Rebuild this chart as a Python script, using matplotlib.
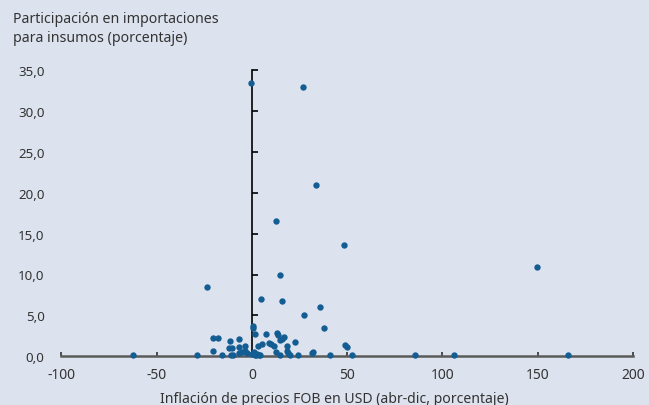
import matplotlib
matplotlib.use("Agg")
import matplotlib.pyplot as plt
from matplotlib.ticker import FuncFormatter

# --- Data ---
inflacion = [
    -0.4, 26.9, 33.6, 12.4, 48.3, 149.4, 15.0, -23.6, 5.0, 15.7, 35.7, 27.5, 37.6,
    0.7, 0.4, 1.8, 7.6, 13.4, 13.8, 14.6, 15.8, 16.9, 22.5, 3.4, 5.1, 9.1, 10.2,
    11.4, 18.2, 18.2, 18.7, 12.5, 15.0, 20.1, 24.3, 32.2, 31.5, 40.8, 49.0, 49.8,
    52.3, 85.6, 106.2, 166.0, -62.3, -29.0,
    -20.3, -17.6, -20.3, -15.6, -11.5, -7.0, -12.1, -10.2, -6.5, -10.8, -10.1,
    -7.0, -3.4, -3.4, -5.2, -2.8,
    1.3, 2.5, 3.6, 1.6, 0.2, 4.5, 2.3,
]
participacion = [
    33.4, 32.9, 21.0, 16.6, 13.6, 10.9, 10.0, 8.5, 7.0, 6.8, 6.0, 5.0, 3.4,
    3.75, 3.4, 2.75, 2.7, 2.9, 2.6, 2.0, 2.1, 2.3, 1.7, 1.3, 1.5, 1.6, 1.5,
    1.2, 1.2, 0.65, 0.45, 0.5, 0.2, 0.2, 0.2, 0.56, 0.37, 0.2, 1.42, 1.17,
    0.2, 0.15, 0.15, 0.15, 0.15, 0.15,
    2.2, 2.2, 0.7, 0.2, 1.9, 2.15, 1.0, 1.0, 1.1, 0.15, 0.15,
    0.35, 1.3, 0.6, 0.5, 0.35,
    0.5, 0.3, 0.15, 0.15, 0.3, 0.1, 0.1,
]

x_ticks = [-100, -50, 0, 50, 100, 150, 200]
y_ticks = [0, 5, 10, 15, 20, 25, 30, 35]

bg = '#dde3ee'
dot = '#135d93'
txt = '#333333'

plt.rcParams['font.family'] = ['Noto Sans', 'DejaVu Sans']

fig = plt.figure(figsize=(6.49, 4.06), dpi=100, facecolor=bg)
ax = fig.add_axes([0.0945, 0.12, 0.8808, 0.705], facecolor=bg)

ax.scatter(inflacion, participacion, s=21, color=dot, zorder=3,
           clip_on=False, linewidths=0)

ax.set_xlim(-100, 200)
ax.set_ylim(0, 35)
ax.set_xticks(x_ticks)
ax.set_yticks(y_ticks)

# spines
for s in ['top', 'right']:
    ax.spines[s].set_visible(False)
ax.spines['left'].set_position(('data', 0))
ax.spines['left'].set_color('black')
ax.spines['left'].set_linewidth(1.2)
ax.spines['bottom'].set_color('#5a5a5a')
ax.spines['bottom'].set_linewidth(1.8)

ax.tick_params(axis='y', direction='in', length=4, width=1.2,
               color='black', labelleft=False)
ax.tick_params(axis='x', direction='in', length=3, width=1.2,
               color='#333333', labelsize=10, labelcolor=txt, pad=8)
ax.xaxis.set_major_formatter(FuncFormatter(lambda v, p: f"{v:.0f}"))

# y labels on the far left
sec = ax.secondary_yaxis('left')
sec.set_yticks(y_ticks)
sec.spines['left'].set_visible(False)
sec.tick_params(length=0, labelsize=9.6, labelcolor=txt, pad=12)
sec.yaxis.set_major_formatter(
    FuncFormatter(lambda v, p: f"{v:.1f}".replace('.', ',')))

ax.set_xlabel("Inflación de precios FOB en USD (abr-dic, porcentaje)",
              fontsize=10.1, color=txt, labelpad=6)
ax.xaxis.label.set_x(0.477)

fig.text(0.02, 0.97, "Participación en importaciones\npara insumos (porcentaje)",
         fontsize=10.2, color=txt, ha='left', va='top', linespacing=1.35)

fig.savefig("out.png", dpi=100, facecolor=bg)
